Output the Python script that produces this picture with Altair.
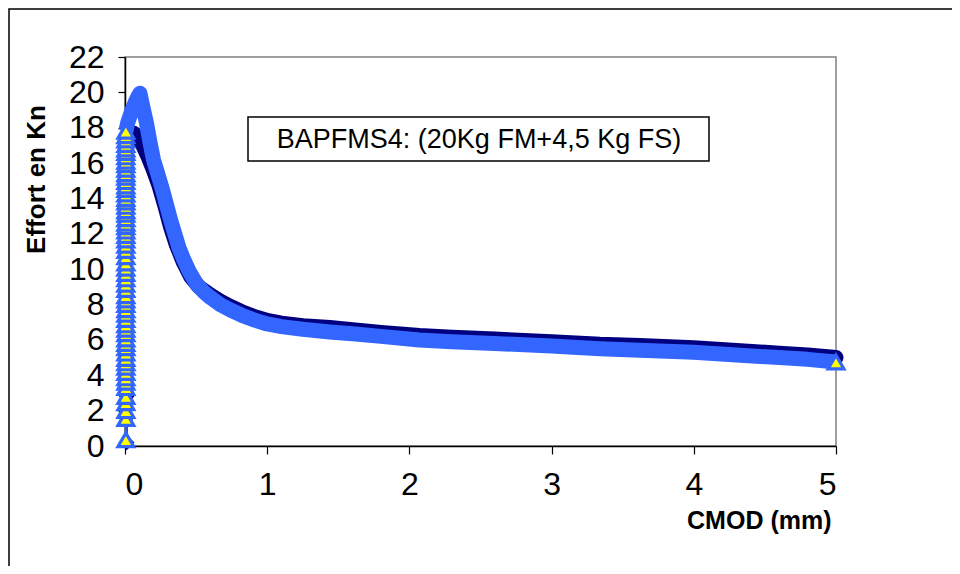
import altair as alt
import pandas as pd

FONT = "Liberation Sans"
X_TICKS = [0, 1, 2, 3, 4, 5]
Y_TICKS = [0, 2, 4, 6, 8, 10, 12, 14, 16, 18, 20, 22]
X_TITLE = "CMOD (mm)"
Y_TITLE = "Effort en Kn"
NOTE = "BAPFMS4: (20Kg FM+4,5 Kg FS)"

# Series 2 (blue triangles) - vertical rise near CMOD = 0
blue_rise_x = 0.006
blue_rise_y = [0.35, 1.55, 2.0, 2.45, 2.8, 3.3, 3.6, 3.85, 4.15, 4.45, 4.7, 4.95, 5.25,
               5.55, 5.8, 6.05, 6.35, 6.6, 6.85, 7.15, 7.45, 7.7, 8.0, 8.25, 8.5, 8.85,
               9.15, 9.45, 9.75, 10.05, 10.35, 10.7, 11.05, 11.35, 11.65, 11.9, 12.15,
               12.4, 12.6, 12.85, 13.1, 13.3, 13.55, 13.8, 14.0, 14.25, 14.5, 14.7, 14.95,
               15.2, 15.4, 15.65, 15.9, 16.1, 16.35, 16.6, 16.8, 17.05, 17.3, 17.55, 17.8]
# Series 2 - peak and softening branch
blue_x = [0.02, 0.045, 0.07, 0.09, 0.105, 0.125, 0.15, 0.175, 0.2, 0.23, 0.26, 0.29,
          0.32, 0.35, 0.38, 0.41, 0.45, 0.5, 0.55, 0.6, 0.67, 0.74, 0.82, 0.9, 1.0, 1.1,
          1.25, 1.44, 1.6, 1.8, 2.07, 2.3, 2.6, 3.0, 3.34, 3.62, 4.0, 4.3, 4.6, 4.8, 5.0]
blue_y = [18.3, 18.9, 19.4, 19.75, 19.95, 19.2, 18.3, 17.2, 16.2, 15.4, 14.6, 13.7,
          12.8, 12.0, 11.2, 10.6, 9.9, 9.2, 8.75, 8.4, 8.0, 7.7, 7.4, 7.15, 6.9, 6.75,
          6.6, 6.45, 6.35, 6.2, 6.0, 5.9, 5.8, 5.65, 5.5, 5.42, 5.3, 5.15, 5.0, 4.9, 4.75]

# Series 1 (navy diamonds)
navy_rise_x = 0.012
navy_rise_y = [0.2, 1.6, 2.1, 2.8, 3.5, 4.5, 6.0, 7.7, 9.5, 11.5, 13.5, 15.5, 17.0]
navy_x = [0.03, 0.06, 0.09, 0.12, 0.16, 0.2, 0.24, 0.28, 0.32, 0.36, 0.41, 0.46, 0.52,
          0.6, 0.67, 0.74, 0.82, 0.9, 1.0, 1.1, 1.25, 1.44, 1.6, 1.8, 2.07, 2.3, 2.6,
          3.0, 3.34, 3.62, 4.0, 4.3, 4.6, 4.8, 5.0]
navy_y = [17.5, 17.7, 17.5, 17.1, 16.4, 15.6, 14.7, 13.6, 12.4, 11.4, 10.4, 9.6, 9.0,
          8.55, 8.2, 7.9, 7.6, 7.35, 7.1, 6.95, 6.8, 6.7, 6.58, 6.42, 6.25, 6.15, 6.05,
          5.9, 5.75, 5.68, 5.55, 5.4, 5.25, 5.15, 5.0]

BLUE = "#3366FF"
NAVY = "#000080"
YELLOW = "#FFFF00"

# ---- tables ----
b_rise = pd.DataFrame({"x": [blue_rise_x] * len(blue_rise_y), "y": blue_rise_y})
b_curve = pd.DataFrame({"x": blue_x, "y": blue_y})
b_all = pd.concat([b_rise, b_curve], ignore_index=True)
b_all["i"] = range(len(b_all))
b_band = b_all.iloc[len(b_rise) - 1:].copy()
b_marks = pd.concat([b_all.iloc[:len(b_rise)], b_all.iloc[[-1]]], ignore_index=True)

n_rise = pd.DataFrame({"x": [navy_rise_x] * len(navy_rise_y), "y": navy_rise_y})
n_curve = pd.DataFrame({"x": navy_x, "y": navy_y})
n_all = pd.concat([n_rise, n_curve], ignore_index=True)
n_all["i"] = range(len(n_all))
n_band = n_all.iloc[len(n_rise) - 1:].copy()
n_marks = n_all.iloc[:len(n_rise)].copy()

xs = alt.Scale(domain=[0, 5], nice=False, zero=False)
ys = alt.Scale(domain=[0, 22], nice=False, zero=False)

x_axis = alt.Axis(values=X_TICKS, format="d", grid=False, title=X_TITLE,
                  labelFontSize=32, labelPadding=15, labelColor="black",
                  tickSize=8, tickColor="black", domainColor="black", domainWidth=1.5,
                  tickWidth=1.2, titleFontSize=25, titleFontWeight="bold",
                  titleColor="black", titleAnchor="end", titleAlign="right",
                  titleX=706, titleY=82, titleBaseline="alphabetic")
y_axis = alt.Axis(values=Y_TICKS, format="d", grid=False, title=Y_TITLE,
                  labelFontSize=32, labelPadding=14, labelColor="black",
                  tickSize=7, tickColor="black", domainColor="black", domainWidth=1.5,
                  tickWidth=1.2, titleFontSize=26, titleFontWeight="bold",
                  titleColor="black", titleAngle=270, titleX=-89, titleY=122,
                  titleAlign="center", titleBaseline="middle")

dummy = pd.DataFrame({"k": [0]})

frame = alt.Chart(dummy).mark_rect(fillOpacity=0, stroke="black", strokeWidth=1.5).encode(
    x=alt.value(-116), x2=alt.value(850), y=alt.value(-48), y2=alt.value(540))

def enc(base):
    return base.encode(
        x=alt.X("x:Q", scale=xs, axis=x_axis),
        y=alt.Y("y:Q", scale=ys, axis=y_axis),
        order=alt.Order("i:Q"),
    )

navy_thin = enc(alt.Chart(n_all).mark_line(color=NAVY, strokeWidth=2))
navy_band = enc(alt.Chart(n_band).mark_line(color=NAVY, strokeWidth=15,
                                             strokeJoin="round", strokeCap="round"))
navy_pts = enc(alt.Chart(n_marks).mark_point(shape="diamond", filled=True, fill=NAVY,
                                              stroke=NAVY, size=160, opacity=1))
blue_thin = enc(alt.Chart(b_all).mark_line(color=BLUE, strokeWidth=2))
blue_band = enc(alt.Chart(b_band).mark_line(color=BLUE, strokeWidth=15,
                                             strokeJoin="round", strokeCap="butt"))
blue_pts = enc(alt.Chart(b_marks).mark_point(shape="triangle-up", filled=True, fill=YELLOW,
                                              stroke=BLUE, strokeWidth=3.2, size=250,
                                              opacity=1))

note_box = alt.Chart(dummy).mark_rect(fill="white", stroke="black", strokeWidth=1.5).encode(
    x=alt.value(123), x2=alt.value(584), y=alt.value(60), y2=alt.value(104))
note_text = alt.Chart(dummy).mark_text(font=FONT, fontSize=27, color="black",
                                       align="center", baseline="middle").encode(
    x=alt.value(354), y=alt.value(83), text=alt.value(NOTE))

chart = alt.layer(
    frame, navy_thin, navy_band, navy_pts, blue_thin, blue_band, blue_pts,
    note_box, note_text
).properties(
    width=711, height=389,
    autosize=alt.AutoSizeParams(type="none"),
    padding={"left": 117, "top": 49, "right": 116, "bottom": 120},
    background="white",
).configure(font=FONT).configure_view(stroke="#808080", strokeWidth=1.5)

chart.save("out.html", embed_options={"renderer": "svg", "actions": False})
